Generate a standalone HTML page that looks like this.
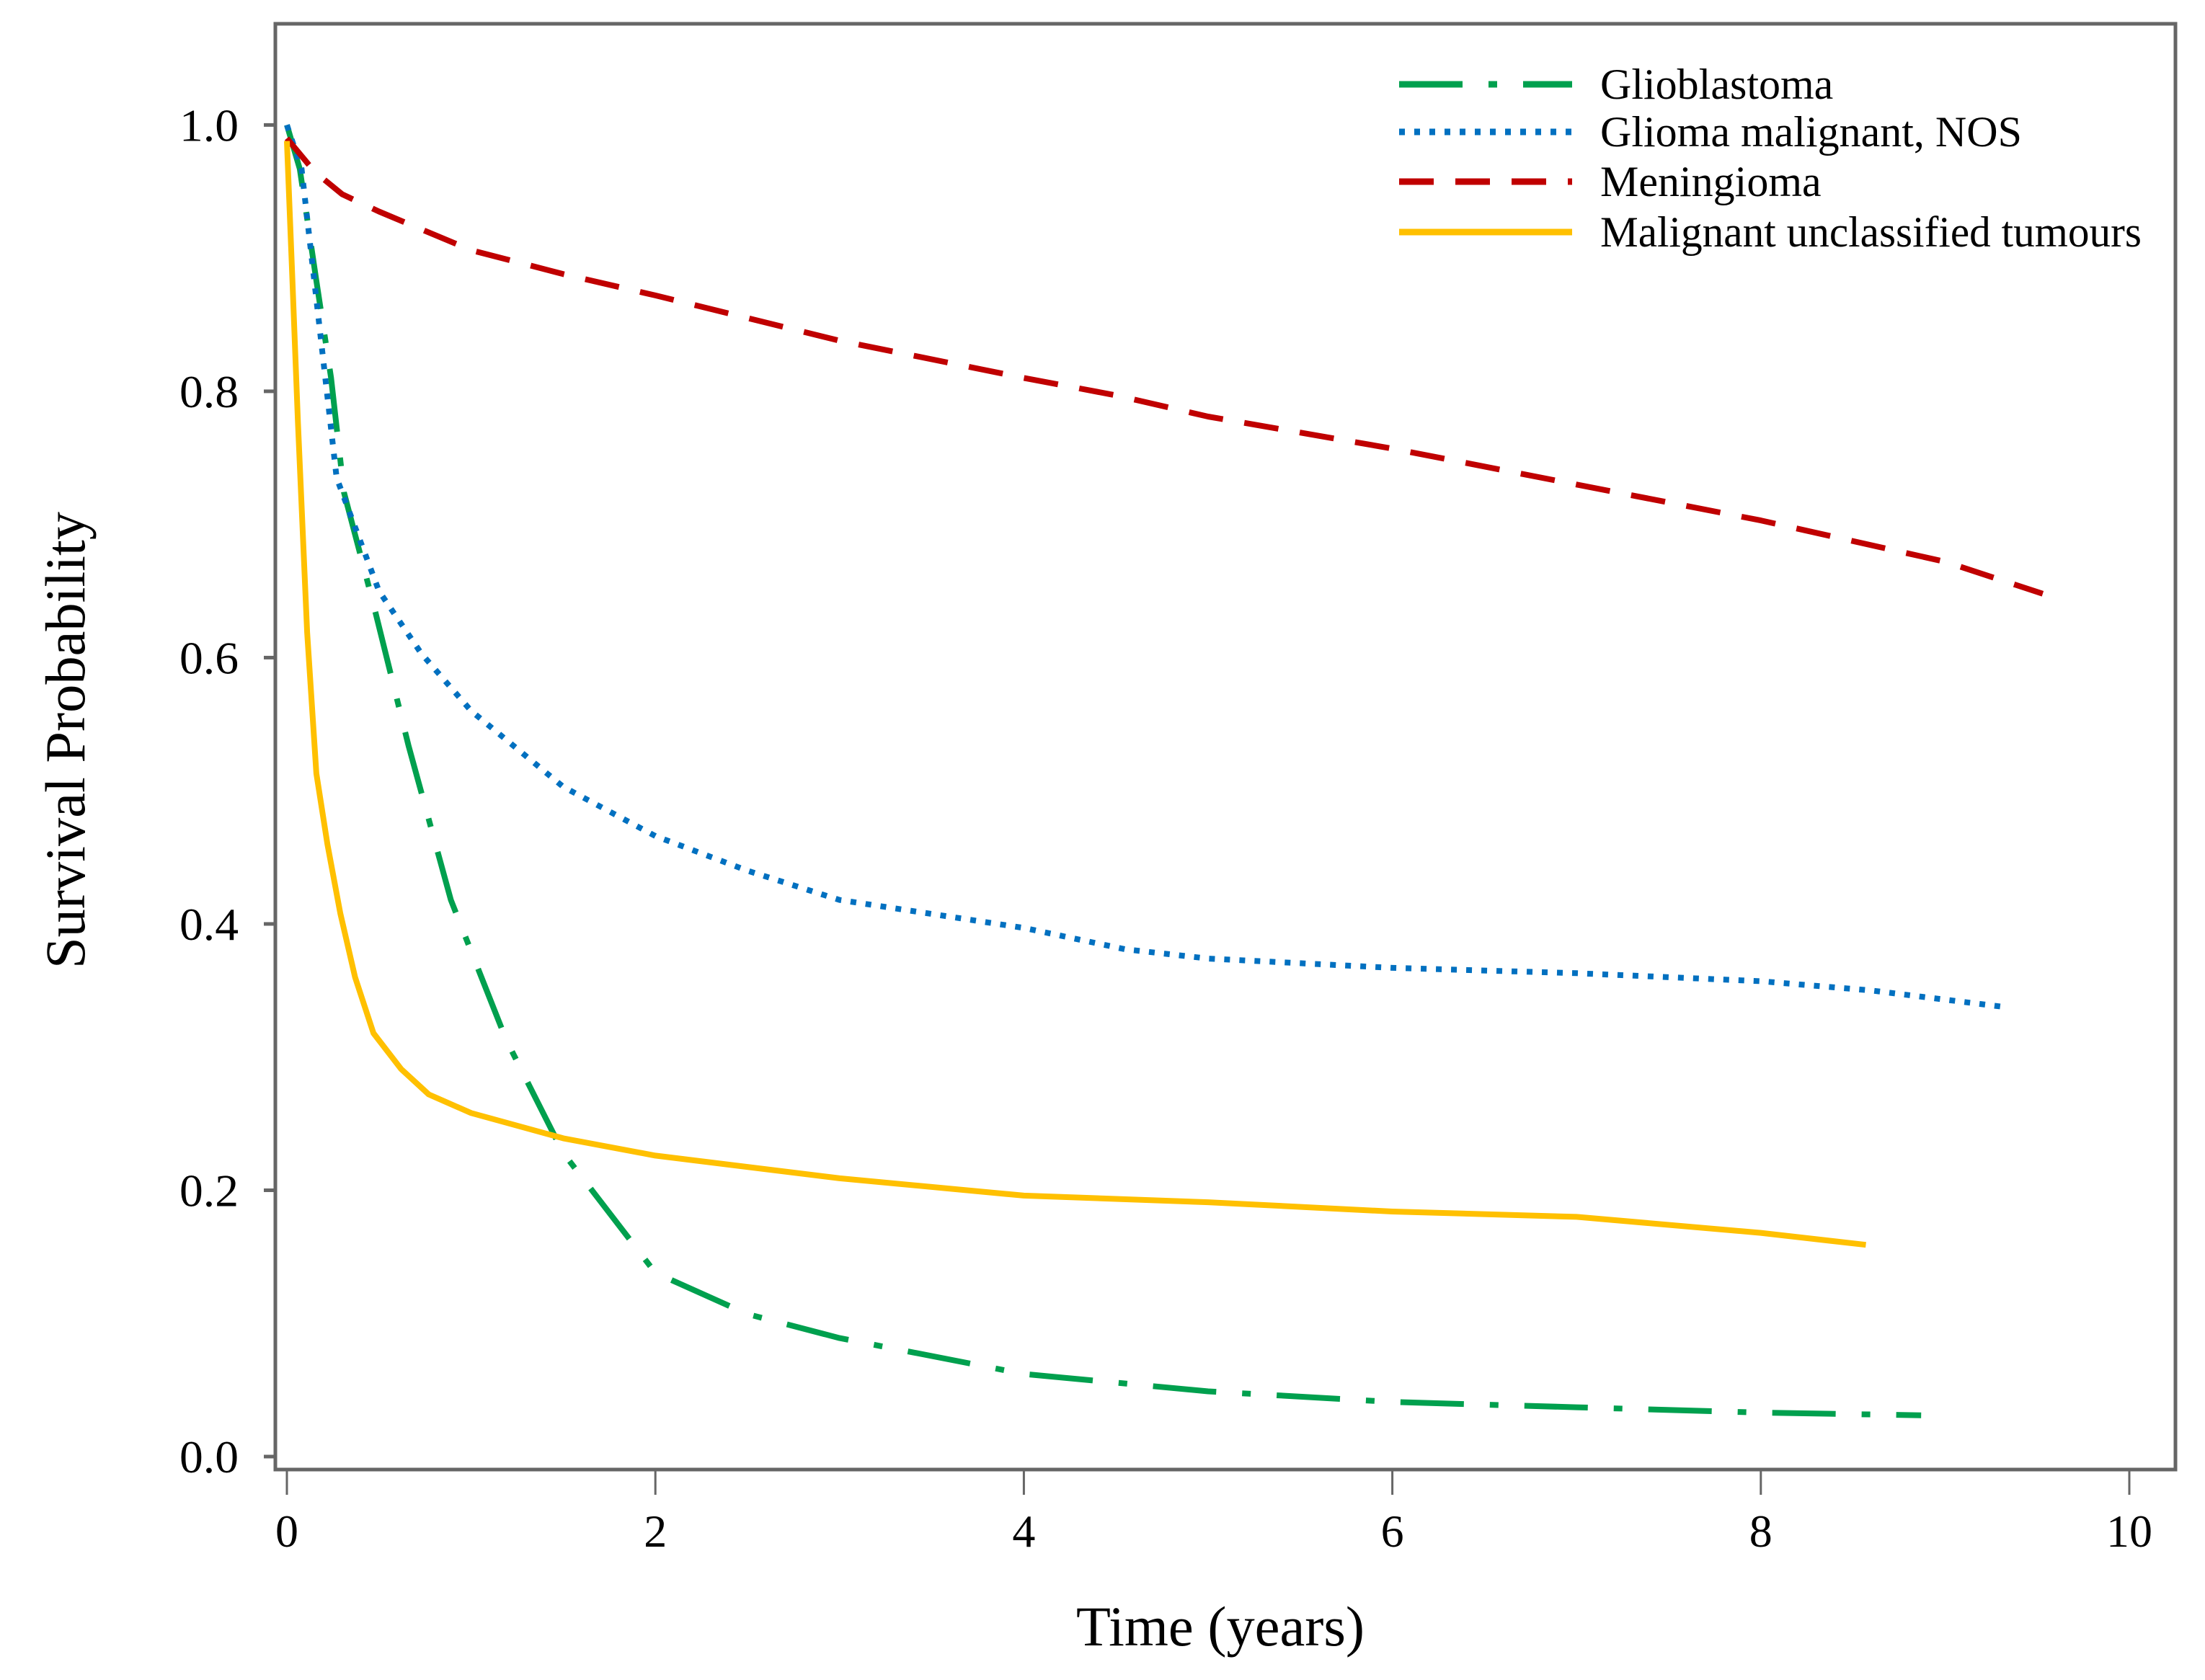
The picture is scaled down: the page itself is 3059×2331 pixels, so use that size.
<!DOCTYPE html>
<html><head><meta charset="utf-8">
<style>
html,body{margin:0;padding:0;background:#fff;}
svg{display:block;}
text{font-family:"Liberation Serif","Times New Roman",serif;fill:#000;}
</style></head>
<body>
<svg id="chart" width="3059" height="2331" viewBox="0 0 3059 2331" xmlns="http://www.w3.org/2000/svg">
<rect x="0" y="0" width="3059" height="2331" fill="#fff"/>
<g id="plot"></g>
<rect x="382" y="33" width="2636" height="2006" fill="none" stroke="#666" stroke-width="5"/>
<g id="axes"></g>
<text x="1693" y="2283" font-size="78" text-anchor="middle" textLength="400" lengthAdjust="spacingAndGlyphs">Time (years)</text>
<text transform="translate(117,1027) rotate(-90)" font-size="78" text-anchor="middle" textLength="634" lengthAdjust="spacingAndGlyphs">Survival Probability</text>
<g id="legend"></g>
</svg>
<script>
const xTicks = [0, 2, 4, 6, 8, 10];
const yTicks = [0.0, 0.2, 0.4, 0.6, 0.8, 1.0];
const seriesNames = ["Glioblastoma", "Glioma malignant, NOS", "Meningioma", "Malignant unclassified tumours"];
const gbmT = [0, 0.07, 0.16, 0.24, 0.31, 0.47, 0.66, 0.89, 1.19, 1.5, 2, 2.5, 3, 4, 5, 6, 7, 8, 8.87];
const gbmS = [1.0, 0.967, 0.883, 0.81, 0.724, 0.64, 0.534, 0.418, 0.313, 0.228, 0.138, 0.107, 0.089, 0.062, 0.049, 0.041, 0.037, 0.033, 0.031];
const nosT = [0, 0.08, 0.27, 0.5, 0.73, 1, 1.5, 2, 2.5, 3, 4, 4.55, 5, 6, 7, 8, 8.6, 9.3];
const nosS = [1.0, 0.967, 0.735, 0.65, 0.603, 0.56, 0.503, 0.466, 0.44, 0.418, 0.397, 0.381, 0.374, 0.367, 0.363, 0.357, 0.35, 0.338];
const menT = [0, 0.15, 0.3, 0.5, 1, 1.5, 2, 3, 4, 4.5, 5, 6, 7, 8, 9, 9.53];
const menS = [0.99, 0.965, 0.948, 0.935, 0.906, 0.888, 0.872, 0.838, 0.81, 0.797, 0.781, 0.757, 0.73, 0.703, 0.672, 0.648];
const mutT = [0, 0.03, 0.06, 0.11, 0.16, 0.22, 0.29, 0.37, 0.47, 0.62, 0.77, 1, 1.5, 2, 3, 4, 5, 6, 7, 8, 8.57];
const mutS = [0.988, 0.883, 0.777, 0.619, 0.513, 0.46, 0.408, 0.36, 0.318, 0.291, 0.272, 0.258, 0.239, 0.226, 0.209, 0.196, 0.191, 0.184, 0.18, 0.168, 0.159];

const NS = "http://www.w3.org/2000/svg";
function xScale(t){ return 398 + t * 255.6; }
function yScale(s){ return 2021 - s * 1847.6; }
function mk(tag, attrs, parent){ const e = document.createElementNS(NS, tag); for (const k in attrs) e.setAttribute(k, attrs[k]); parent.appendChild(e); return e; }

const axes = document.getElementById("axes");
xTicks.forEach(v => {
  const x = xScale(v);
  const tk = mk("line", {x1:x, x2:x, y1:2039, y2:2074, stroke:"#666", "stroke-width":3}, axes);
  
  
  const lb = mk("text", {x:x, y:2146, "font-size":64, "text-anchor":"middle"}, axes);
  lb.textContent = String(v);
  
  
});
yTicks.forEach(v => {
  const y = yScale(v);
  const tk = mk("line", {x1:366, x2:382, y1:y, y2:y, stroke:"#666", "stroke-width":5}, axes);
  
  
  const lb = mk("text", {x:331, y:y+22, "font-size":64, "text-anchor":"end", textLength:82, lengthAdjust:"spacingAndGlyphs"}, axes);
  lb.textContent = v.toFixed(1);
  
  
});

const styles = [
  {c:"#00A04E", d:"88 36 12 36"},
  {c:"#0070C0", d:"8 13"},
  {c:"#C00000", d:"48 30"},
  {c:"#FFC000", d:"none"}
];
const plot = document.getElementById("plot");
const allT = [gbmT, nosT, menT, mutT];
const allS = [gbmS, nosS, menS, mutS];
const lineNames = ["line-glioblastoma", "line-glioma-nos", "line-meningioma", "line-malignant-unclassified"];
allT.forEach((ts, i) => {
  const pts = ts.map((t, j) => xScale(t).toFixed(1) + "," + yScale(allS[i][j]).toFixed(1)).join(" ");
  const pl = mk("polyline", {points:pts, fill:"none", stroke:styles[i].c, "stroke-width":8, "stroke-dasharray":styles[i].d, "stroke-linejoin":"round"}, plot);
  
  
});

const legend = document.getElementById("legend");
const rowY = [117, 183, 252, 322];
seriesNames.forEach((n, i) => {
  const g = mk("g", {}, legend);
  
  
  mk("line", {x1:1941, x2:2181, y1:rowY[i], y2:rowY[i], stroke:styles[i].c, "stroke-width":9, "stroke-dasharray":styles[i].d}, g);
  const t = mk("text", {x:2220, y:rowY[i]+20, "font-size":60}, g);
  t.textContent = n;
  
  
});
const lastLbl = legend.lastChild.querySelector("text");
lastLbl.setAttribute("textLength", "751");
lastLbl.setAttribute("lengthAdjust", "spacingAndGlyphs");
</script>
</body></html>
